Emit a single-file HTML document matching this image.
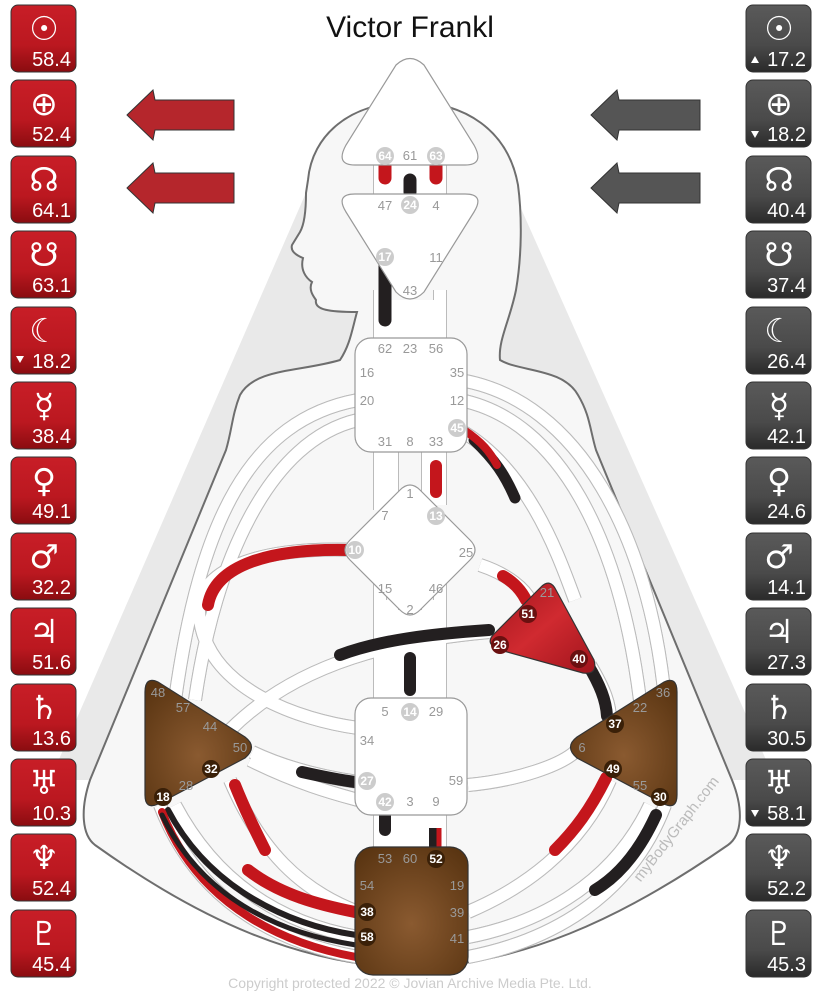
<!DOCTYPE html>
<html><head><meta charset="utf-8"><style>
body{margin:0;background:#fff;width:821px;height:1005px;overflow:hidden}
svg{display:block}
.t{font-family:"Liberation Sans","DejaVu Sans",sans-serif}
.sym{font-family:"DejaVu Sans",sans-serif;font-size:33px;fill:#fff;text-anchor:middle}
.num{font-family:"Liberation Sans",sans-serif;font-size:20px;fill:#fff;text-anchor:end}
.g{font-family:"Liberation Sans",sans-serif;font-size:13px;fill:#999;text-anchor:middle}
.gw{font-family:"Liberation Sans",sans-serif;font-size:12px;font-weight:bold;fill:#fff;text-anchor:middle}
</style></head><body>
<svg width="821" height="1005" viewBox="0 0 821 1005" xmlns="http://www.w3.org/2000/svg">
<defs>
<linearGradient id="rd" x1="0" y1="0" x2="0" y2="1"><stop offset="0" stop-color="#c81e27"/><stop offset=".6" stop-color="#bb1820"/><stop offset="1" stop-color="#8a0c10"/></linearGradient>
<linearGradient id="gr" x1="0" y1="0" x2="0" y2="1"><stop offset="0" stop-color="#5a5a5a"/><stop offset=".6" stop-color="#4a4a4a"/><stop offset="1" stop-color="#2a2a2a"/></linearGradient>
<radialGradient id="br" cx=".5" cy=".6" r=".7"><stop offset="0" stop-color="#8a5a30"/><stop offset="1" stop-color="#5a3512"/></radialGradient>
<linearGradient id="hr" x1="0" y1="0" x2="1" y2="1"><stop offset="0" stop-color="#a0141c"/><stop offset=".5" stop-color="#d02a30"/><stop offset="1" stop-color="#a0141c"/></linearGradient>
</defs>
<!-- fan -->
<polygon points="305,195 515,195 775,780 50,780" fill="#e9e9e9"/>
<!-- body -->
<path d="M357,312 C352,330 350,345 340,360 C300,372 255,368 240,395 C232,415 232,430 226,450 L90,780 C80,810 82,835 95,845 C200,920 300,965 410,968 C520,965 620,920 728,845 C742,835 744,810 732,780 L596,450 C590,430 590,415 578,395 C563,368 520,372 500,360 C498,340 510,320 516,290 C522,255 522,215 518,185 C508,130 465,102 410,102 C350,102 312,135 308,180 L306,193 C306,210 304,225 300,232 L292,245 C290,252 298,256 303,258 C300,270 306,278 312,282 C308,290 314,297 316,300 C314,310 330,312 357,312 Z" fill="#f7f7f7" stroke="#6e6e6e" stroke-width="2"/>
<!-- channels white bands -->
<g id="bands" fill="none" stroke="#bbb" stroke-width="14">
<path d="M358,550 C250,545 190,575 200,620 C210,690 300,720 358,728"/>
<path d="M358,400 C250,420 200,520 175,700"/>
<path d="M358,420 C270,440 215,560 195,700"/>
<path d="M460,430 C530,470 560,560 575,600"/>
<path d="M460,400 C560,420 620,540 640,700"/>
<path d="M460,380 C580,400 650,540 665,700"/>
<path d="M480,565 C510,575 525,590 530,600"/>
<path d="M489,632 C400,640 300,660 230,730"/>
<path d="M252,752 C290,770 330,778 358,782"/>
<path d="M250,760 C300,785 340,795 358,800"/>
<path d="M468,785 C520,780 560,765 575,752"/>
<path d="M590,665 C605,690 610,705 610,720"/>
<path d="M230,780 C260,850 300,890 358,912"/>
<path d="M175,805 C220,890 290,925 358,937"/>
<path d="M160,805 C200,910 290,945 358,957"/>
<path d="M610,780 C580,850 520,890 468,912"/>
<path d="M650,805 C610,890 530,925 468,937"/>
<path d="M665,805 C625,910 530,945 468,957"/>
<path d="M380,452 L380,510 M392,452 L392,520 M428,452 L428,520 M440,452 L440,505"/>
<path d="M380,165 V195 M392,165 V195 M404,165 V195 M416,165 V195 M428,165 V195 M440,165 V195"/>
<path d="M380,290 V338 M392,300 V338 M404,300 V338 M416,300 V338 M428,300 V338 M440,290 V338"/>
<path d="M380,580 V700 M392,600 V700 M404,610 V700 M416,610 V700 M428,600 V700 M440,580 V700"/>
<path d="M380,815 V850 M392,815 V850 M404,815 V850 M416,815 V850 M428,815 V850 M440,815 V850"/>
</g>
<use href="#bands" stroke="#fff" stroke-width="12"/>
<g fill="none" stroke="#fff" stroke-width="12">
<path d="M358,550 C250,545 190,575 200,620 C210,690 300,720 358,728"/>
<path d="M358,400 C250,420 200,520 175,700"/>
<path d="M358,420 C270,440 215,560 195,700"/>
<path d="M460,430 C530,470 560,560 575,600"/>
<path d="M460,400 C560,420 620,540 640,700"/>
<path d="M460,380 C580,400 650,540 665,700"/>
<path d="M480,565 C510,575 525,590 530,600"/>
<path d="M489,632 C400,640 300,660 230,730"/>
<path d="M252,752 C290,770 330,778 358,782"/>
<path d="M250,760 C300,785 340,795 358,800"/>
<path d="M468,785 C520,780 560,765 575,752"/>
<path d="M590,665 C605,690 610,705 610,720"/>
<path d="M230,780 C260,850 300,890 358,912"/>
<path d="M175,805 C220,890 290,925 358,937"/>
<path d="M160,805 C200,910 290,945 358,957"/>
<path d="M610,780 C580,850 520,890 468,912"/>
<path d="M650,805 C610,890 530,925 468,937"/>
<path d="M665,805 C625,910 530,945 468,957"/>
<path d="M380,452 L380,510 M392,452 L392,520 M428,452 L428,520 M440,452 L440,505"/>
<path d="M380,165 V195 M392,165 V195 M404,165 V195 M416,165 V195 M428,165 V195 M440,165 V195"/>
<path d="M380,290 V338 M392,300 V338 M404,300 V338 M416,300 V338 M428,300 V338 M440,290 V338"/>
<path d="M380,580 V700 M392,600 V700 M404,610 V700 M416,610 V700 M428,600 V700 M440,580 V700"/>
<path d="M380,815 V850 M392,815 V850 M404,815 V850 M416,815 V850 M428,815 V850 M440,815 V850"/>
</g>
<!-- activations -->
<g fill="none" stroke-linecap="round" stroke-width="13">
<path d="M385,165 V178 M436,165 V178" stroke="#c4161c"/>
<path d="M410,180 V192" stroke="#231f20"/>
<path d="M385,262 V320" stroke="#231f20"/>
<path d="M474,440 C495,460 505,475 515,498" stroke="#231f20" stroke-width="11"/>
<path d="M464,430 C482,442 490,452 497,465" stroke="#c4161c" stroke-width="8"/>
<path d="M436,466 V492" stroke="#c4161c" stroke-width="12"/>
<path d="M350,550 C270,548 215,565 208,605" stroke="#c4161c" stroke-width="12"/>
<path d="M503,576 C515,583 522,592 526,600" stroke="#c4161c" stroke-width="12"/>
<path d="M489,630 C430,634 380,640 340,655" stroke="#231f20" stroke-width="12"/>
<path d="M410,658 V690" stroke="#231f20" stroke-width="12"/>
<path d="M588,665 C600,685 606,700 607,716" stroke="#231f20" stroke-width="12"/>
<path d="M302,772 C320,776 340,780 355,782" stroke="#231f20" stroke-width="12"/>
<path d="M235,785 C245,810 255,830 265,850" stroke="#c4161c" stroke-width="12"/>
<path d="M248,870 C280,895 320,905 355,912" stroke="#c4161c" stroke-width="12"/>
<path d="M168,810 C210,890 290,925 356,935" stroke="#231f20" stroke-width="6"/>
<path d="M162,812 C200,910 290,945 356,957" stroke="#c4161c" stroke-width="8"/>
<path d="M162,815 C205,905 290,935 356,945" stroke="#231f20" stroke-width="5"/>
<path d="M385,815 V830" stroke="#231f20" stroke-width="12"/>
<path d="M433,828 V847" stroke="#231f20" stroke-width="8" stroke-linecap="butt"/>
<path d="M439,828 V847" stroke="#c4161c" stroke-width="5" stroke-linecap="butt"/>
<path d="M606,778 C590,810 575,830 555,850" stroke="#c4161c" stroke-width="12"/>
<path d="M656,815 C640,850 620,875 595,890" stroke="#231f20" stroke-width="12"/>
</g>
<!-- centers -->
<g stroke="#999" stroke-width="1.2">
<path d="M396,65 Q410,52 424,65 L474,145 Q485,165 465,165 L355,165 Q335,165 346,145 Z" fill="#fff"/>
<path d="M355,194 L465,194 Q485,194 474,212 L424,292 Q410,306 396,292 L346,212 Q335,194 355,194 Z" fill="#fff"/>
<rect x="355" y="338" width="112" height="114" rx="16" fill="#fff"/>
<path d="M400,490 Q410,480 420,490 L470,540 Q480,550 470,560 L420,610 Q410,620 400,610 L350,560 Q340,550 350,540 Z" fill="#fff"/>
<rect x="355" y="698" width="112" height="117" rx="16" fill="#fff"/>
</g>
<path d="M541,587 Q550,578 556,590 L594,660 Q598,675 583,673 L500,650 Q484,644 494,634 Z" fill="url(#hr)" stroke="#333" stroke-width="1.2"/>
<path d="M158,682 Q145,676 145,692 L145,795 Q145,810 158,804 L245,758 Q258,747 245,737 Z" fill="url(#br)" stroke="#333" stroke-width="1.2"/>
<path d="M664,682 Q677,676 677,692 L677,795 Q677,810 664,804 L577,758 Q564,747 577,737 Z" fill="url(#br)" stroke="#333" stroke-width="1.2"/>
<rect x="355" y="847" width="113" height="128" rx="18" fill="url(#br)" stroke="#333" stroke-width="1.2"/>
<!-- gate labels -->
<g class="g">
<text x="410" y="160">61</text><text x="385" y="210">47</text><text x="436" y="210">4</text>
<text x="436" y="262">11</text><text x="410" y="295">43</text>
<text x="385" y="353">62</text><text x="410" y="353">23</text><text x="436" y="353">56</text>
<text x="367" y="377">16</text><text x="457" y="377">35</text><text x="367" y="405">20</text><text x="457" y="405">12</text>
<text x="385" y="446">31</text><text x="410" y="446">8</text><text x="436" y="446">33</text>
<text x="410" y="498">1</text><text x="385" y="520">7</text><text x="466" y="557">25</text>
<text x="385" y="593">15</text><text x="436" y="593">46</text><text x="410" y="614">2</text>
<text x="547" y="597">21</text>
<text x="158" y="697">48</text><text x="183" y="712">57</text><text x="210" y="731">44</text><text x="240" y="752">50</text><text x="186" y="790">28</text>
<text x="663" y="697">36</text><text x="640" y="712">22</text><text x="582" y="752">6</text><text x="640" y="790">55</text>
<text x="385" y="716">5</text><text x="436" y="716">29</text><text x="367" y="745">34</text><text x="456" y="785">59</text>
<text x="410" y="806">3</text><text x="436" y="806">9</text>
<text x="385" y="863">53</text><text x="410" y="863">60</text>
<text x="367" y="890">54</text><text x="457" y="890">19</text><text x="457" y="917">39</text><text x="457" y="943">41</text>
</g>
<g fill="#ccc"><circle cx="385" cy="156" r="9"/><circle cx="436" cy="156" r="9"/><circle cx="410" cy="205" r="9"/><circle cx="385" cy="257" r="9"/><circle cx="457" cy="428" r="9"/><circle cx="436" cy="516" r="9"/><circle cx="355" cy="550" r="9"/><circle cx="410" cy="712" r="9"/><circle cx="367" cy="781" r="9"/><circle cx="385" cy="802" r="9"/></g>
<g class="gw"><text x="385" y="160">64</text><text x="436" y="160">63</text><text x="410" y="209">24</text><text x="385" y="261">17</text><text x="457" y="432">45</text><text x="436" y="520">13</text><text x="355" y="554">10</text><text x="410" y="716">14</text><text x="367" y="785">27</text><text x="385" y="806">42</text></g>
<g fill="#6a1010"><circle cx="528" cy="614" r="9"/><circle cx="500" cy="645" r="9"/><circle cx="579" cy="659" r="9"/></g>
<g fill="#3a2008"><circle cx="211" cy="769" r="9"/><circle cx="163" cy="797" r="9"/><circle cx="615" cy="724" r="9"/><circle cx="613" cy="769" r="9"/><circle cx="660" cy="797" r="9"/><circle cx="436" cy="859" r="9"/><circle cx="367" cy="912" r="9"/><circle cx="367" cy="937" r="9"/></g>
<g class="gw"><text x="528" y="618">51</text><text x="500" y="649">26</text><text x="579" y="663">40</text><text x="211" y="773">32</text><text x="163" y="801">18</text><text x="615" y="728">37</text><text x="613" y="773">49</text><text x="660" y="801">30</text><text x="436" y="863">52</text><text x="367" y="916">38</text><text x="367" y="941">58</text></g>
<text x="680" y="832" class="t" font-size="15" fill="#bbb" transform="rotate(-52 680 832)" text-anchor="middle">myBodyGraph.com</text>
<text x="410" y="37" class="t" font-size="30" fill="#111" text-anchor="middle">Victor Frankl</text>
<text x="410" y="988" class="t" font-size="14" fill="#ccc" text-anchor="middle">Copyright protected 2022 © Jovian Archive Media Pte. Ltd.</text>
<!-- arrows -->
<g stroke="#333" stroke-width="1">
<path d="M127,115 L153,90 L155,100 L234,100 L234,130 L155,130 L153,140 Z" fill="#b5262c"/>
<path d="M127,188 L153,163 L155,173 L234,173 L234,203 L155,203 L153,213 Z" fill="#b5262c"/>
<path d="M591,115 L617,90 L619,100 L700,100 L700,130 L619,130 L617,140 Z" fill="#555"/>
<path d="M591,188 L617,163 L619,173 L700,173 L700,203 L619,203 L617,213 Z" fill="#555"/>
</g>
<!-- tiles -->
<g stroke="#333" stroke-width="1">
<rect x="11" y="5" width="65" height="67" rx="7" fill="url(#rd)"/><rect x="11" y="80" width="65" height="67" rx="7" fill="url(#rd)"/><rect x="11" y="156" width="65" height="67" rx="7" fill="url(#rd)"/><rect x="11" y="231" width="65" height="67" rx="7" fill="url(#rd)"/><rect x="11" y="307" width="65" height="67" rx="7" fill="url(#rd)"/><rect x="11" y="382" width="65" height="67" rx="7" fill="url(#rd)"/><rect x="11" y="457" width="65" height="67" rx="7" fill="url(#rd)"/><rect x="11" y="533" width="65" height="67" rx="7" fill="url(#rd)"/><rect x="11" y="608" width="65" height="67" rx="7" fill="url(#rd)"/><rect x="11" y="684" width="65" height="67" rx="7" fill="url(#rd)"/><rect x="11" y="759" width="65" height="67" rx="7" fill="url(#rd)"/><rect x="11" y="834" width="65" height="67" rx="7" fill="url(#rd)"/><rect x="11" y="910" width="65" height="67" rx="7" fill="url(#rd)"/>
<rect x="746" y="5" width="65" height="67" rx="7" fill="url(#gr)"/><rect x="746" y="80" width="65" height="67" rx="7" fill="url(#gr)"/><rect x="746" y="156" width="65" height="67" rx="7" fill="url(#gr)"/><rect x="746" y="231" width="65" height="67" rx="7" fill="url(#gr)"/><rect x="746" y="307" width="65" height="67" rx="7" fill="url(#gr)"/><rect x="746" y="382" width="65" height="67" rx="7" fill="url(#gr)"/><rect x="746" y="457" width="65" height="67" rx="7" fill="url(#gr)"/><rect x="746" y="533" width="65" height="67" rx="7" fill="url(#gr)"/><rect x="746" y="608" width="65" height="67" rx="7" fill="url(#gr)"/><rect x="746" y="684" width="65" height="67" rx="7" fill="url(#gr)"/><rect x="746" y="759" width="65" height="67" rx="7" fill="url(#gr)"/><rect x="746" y="834" width="65" height="67" rx="7" fill="url(#gr)"/><rect x="746" y="910" width="65" height="67" rx="7" fill="url(#gr)"/>
</g>
<g class="sym">
<text x="44" y="40">☉</text><text x="44" y="115">⊕</text><text x="44" y="191">☊</text><text x="44" y="266">☋</text><text x="44" y="342">☾</text><text x="44" y="417">☿</text><text x="44" y="492">♀</text><text x="44" y="568">♂</text><text x="44" y="643">♃</text><text x="44" y="719">♄</text><text x="44" y="794">♅</text><text x="44" y="869">♆</text><text x="44" y="945">♇</text>
<text x="779" y="40">☉</text><text x="779" y="115">⊕</text><text x="779" y="191">☊</text><text x="779" y="266">☋</text><text x="779" y="342">☾</text><text x="779" y="417">☿</text><text x="779" y="492">♀</text><text x="779" y="568">♂</text><text x="779" y="643">♃</text><text x="779" y="719">♄</text><text x="779" y="794">♅</text><text x="779" y="869">♆</text><text x="779" y="945">♇</text>
</g>
<g class="num">
<text x="71" y="66">58.4</text><text x="71" y="141">52.4</text><text x="71" y="217">64.1</text><text x="71" y="292">63.1</text><text x="71" y="368">18.2</text><text x="71" y="443">38.4</text><text x="71" y="518">49.1</text><text x="71" y="594">32.2</text><text x="71" y="669">51.6</text><text x="71" y="745">13.6</text><text x="71" y="820">10.3</text><text x="71" y="895">52.4</text><text x="71" y="971">45.4</text>
<text x="806" y="66">17.2</text><text x="806" y="141">18.2</text><text x="806" y="217">40.4</text><text x="806" y="292">37.4</text><text x="806" y="368">26.4</text><text x="806" y="443">42.1</text><text x="806" y="518">24.6</text><text x="806" y="594">14.1</text><text x="806" y="669">27.3</text><text x="806" y="745">30.5</text><text x="806" y="820">58.1</text><text x="806" y="895">52.2</text><text x="806" y="971">45.3</text>
</g>
<g fill="#fff"><path d="M16,356 L24,356 L20,363 Z"/><path d="M751,63 L759,63 L755,56 Z"/><path d="M751,131 L759,131 L755,138 Z"/><path d="M751,810 L759,810 L755,817 Z"/></g>
</svg>
</body></html>
